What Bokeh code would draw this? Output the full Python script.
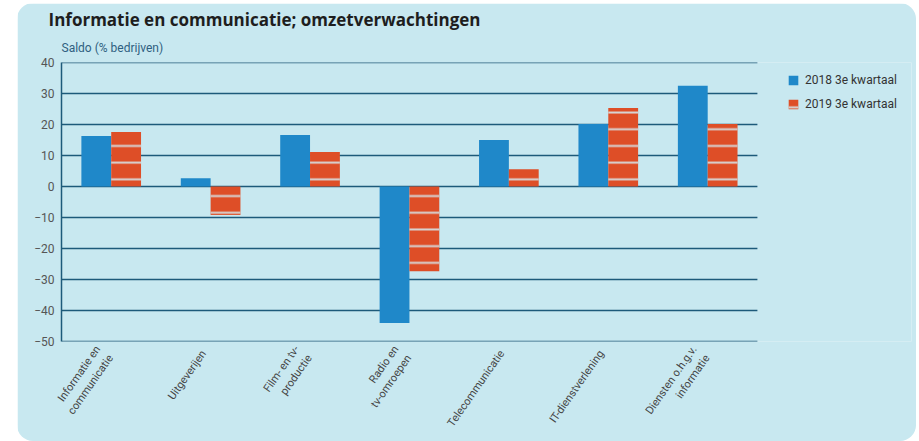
import math
from bokeh.plotting import figure
from bokeh.models import (Range1d, Legend, LegendItem, Title, FixedTicker,
                          ColumnDataSource)
from bokeh.embed import file_html
from bokeh.resources import INLINE

categories = ["Informatie en\ncommunicatie", "Uitgeverijen", "Film- en tv-\nproductie",
              "Radio en\ntv-omroepen", "Telecommunicatie", "IT-dienstverlening",
              "Diensten o.h.g.v.\ninformatie"]
series_names = ["2018 3e kwartaal", "2019 3e kwartaal"]
values_2018 = [16.3, 2.7, 16.6, -44.0, 15.0, 20.2, 32.5]
values_2019 = [17.6, -9.2, 11.1, -27.3, 5.6, 25.3, 20.2]
y_ticks = [-50, -40, -30, -20, -10, 0, 10, 20, 30, 40]

title_text = "Informatie en communicatie; omzetverwachtingen"
subtitle_text = "Saldo (% bedrijven)"

BG = "#c8e8f0"
BLUE = "#1f88c9"
ORANGE = "#de4e27"
GRID = "#1d5a7a"

n = len(categories)
pos = list(range(n))
BAR_W = 0.3
LABEL_SHIFT = -0.07
src = ColumnDataSource(dict(
    x1=[i - BAR_W / 2 for i in pos], x2=[i + BAR_W / 2 for i in pos],
    v1=values_2018, v2=values_2019))
grid_src = ColumnDataSource(dict(x0=[-0.5] * len(y_ticks), x1=[n - 0.5] * len(y_ticks),
                                 y=y_ticks))

p = figure(width=899, height=438, x_range=Range1d(-0.5, 8.05),
           y_range=Range1d(-50, 40), output_backend="svg", toolbar_location=None,
           min_border_left=44, min_border_right=5, min_border_top=59,
           min_border_bottom=100, border_fill_color=BG, background_fill_color=BG,
           outline_line_color=None)
p.styles = {"margin-left": "17px", "margin-top": "3px",
            "border-radius": "16px", "overflow": "hidden"}

sub = Title(text=subtitle_text, text_font="Roboto", text_font_size="12px",
            text_font_style="normal", text_color="#2f5f80", align="left",
            offset=0, standoff=16)
main = Title(text=title_text, text_font="Open Sans", text_font_size="17px",
             text_font_style="bold", text_color="#1e1e1e", align="left",
             offset=-13, standoff=0)
p.add_layout(sub, "above")
p.add_layout(main, "above")

p.segment(x0="x0", x1="x1", y0="y", y1="y", source=grid_src,
          line_color=GRID, line_width=1.5)

r1 = p.vbar(x="x1", top="v1", width=BAR_W, source=src, fill_color=BLUE,
            line_color=None)
r2 = p.vbar(x="x2", top="v2", width=BAR_W, source=src, fill_color=ORANGE,
            line_color=None, hatch_pattern="horizontal_line", hatch_scale=16.7,
            hatch_weight=2, hatch_color="#d6d6d6")

p.xgrid.grid_line_color = None
p.ygrid.grid_line_color = None

p.yaxis.ticker = FixedTicker(ticks=y_ticks)
p.yaxis.axis_line_color = GRID
p.yaxis.axis_line_width = 1.5
p.yaxis.major_tick_line_color = None
p.yaxis.minor_tick_line_color = None
p.yaxis.major_tick_out = 0
p.yaxis.major_tick_in = 0
p.yaxis.minor_tick_out = 0
p.yaxis.major_label_standoff = 7
p.yaxis.major_label_text_font = "Roboto"
p.yaxis.major_label_text_font_size = "12px"
p.yaxis.major_label_text_color = "#555555"

tick_pos = [i + LABEL_SHIFT for i in pos]
p.xaxis.ticker = FixedTicker(ticks=tick_pos)
p.xaxis.major_label_overrides = {t: c for t, c in zip(tick_pos, categories)}
p.xaxis.axis_line_color = None
p.xaxis.major_tick_line_color = None
p.xaxis.minor_tick_line_color = None
p.xaxis.major_tick_out = 0
p.xaxis.major_tick_in = 0
p.xaxis.minor_tick_out = 0
p.xaxis.major_label_orientation = 0.96
p.xaxis.major_label_standoff = 10
p.xaxis.major_label_text_font = "Roboto"
p.xaxis.major_label_text_font_size = "11px"
p.xaxis.major_label_text_color = "#444444"

legend = Legend(items=[LegendItem(label=series_names[0], renderers=[r1]),
                       LegendItem(label=series_names[1], renderers=[r2])],
                location=(726, 230), orientation="vertical",
                glyph_width=12, glyph_height=12, label_height=14, spacing=10,
                label_standoff=6, padding=0, margin=0,
                background_fill_alpha=0, border_line_color=None,
                label_text_font="Roboto", label_text_font_size="12px",
                label_text_color="#333333")
p.add_layout(legend, "center")

open("out.html", "w").write(file_html(p, INLINE))
